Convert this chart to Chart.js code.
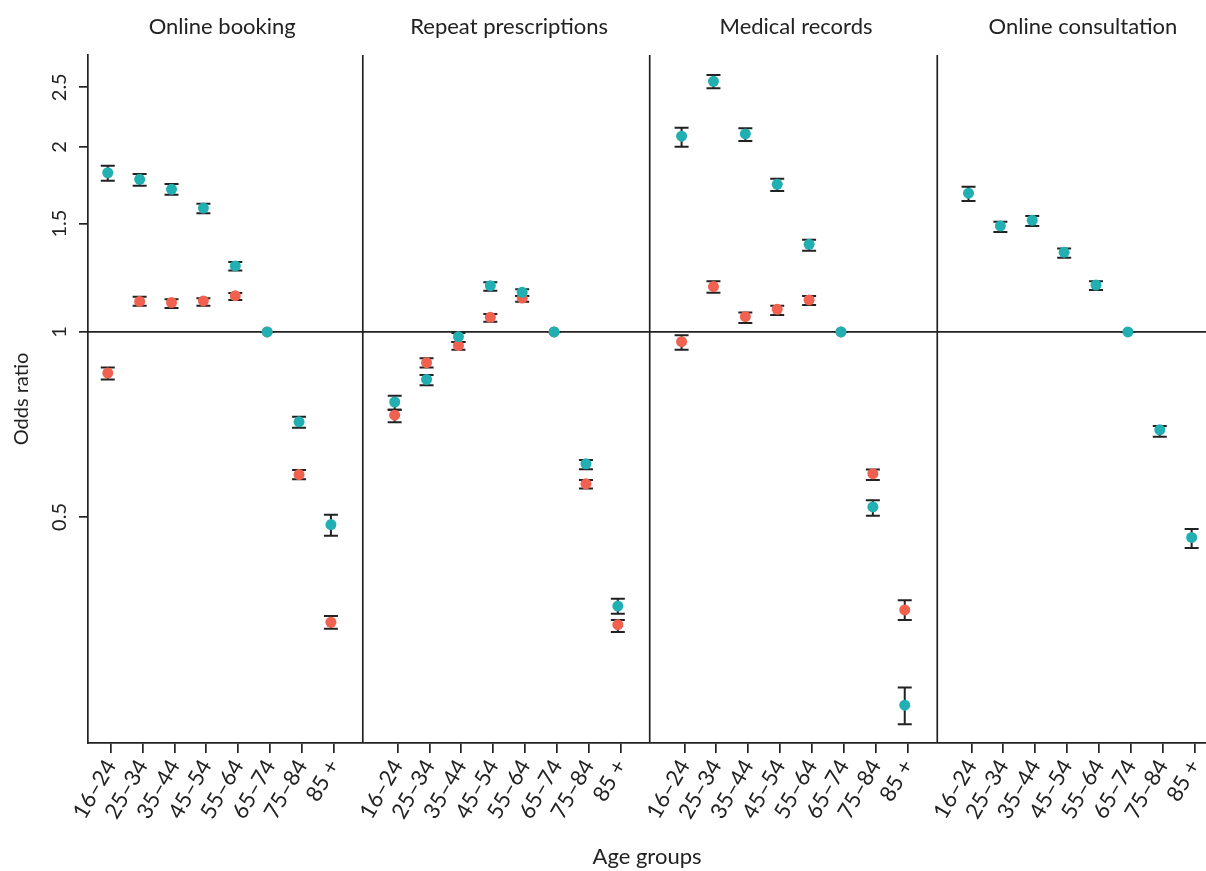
<!DOCTYPE html>
<html>
<head>
<meta charset="utf-8">
<script src="https://cdn.jsdelivr.net/npm/chart.js@4.4.1/dist/chart.umd.min.js"></script>
<style>
    html, body { margin: 0; padding: 0; background: #fff; }
    #wrap { width: 1206px; height: 871px; }
</style>
</head>
<body>
<div id="wrap"><canvas id="chart"></canvas></div>
<script>
// ---------- DATA ----------
const panels = ['Online booking', 'Repeat prescriptions', 'Medical records', 'Online consultation'];
const ageGroups = ['16–24', '25–34', '35–44', '45–54', '55–64', '65–74', '75–84', '85 +'];
const yTicks = [0.5, 1, 1.5, 2, 2.5];

// teal series: odds ratio and 95% CI, one row per panel
const tealOR = [
    [1.815, 1.771, 1.706, 1.590, 1.280, 1, 0.714, 0.486],
    [0.769, 0.837, 0.982, 1.189, 1.160, 1, 0.610, 0.358],
    [2.081, 2.556, 2.099, 1.738, 1.388, 1, 0.519, 0.247],
    [1.681, 1.487, 1.519, 1.347, 1.192, 1, 0.693, 0.463]
];
const tealLow = [
    [1.762, 1.729, 1.672, 1.559, 1.258, 1, 0.698, 0.466],
    [0.747, 0.819, 0.963, 1.167, 1.144, 1, 0.598, 0.348],
    [2.001, 2.490, 2.044, 1.695, 1.355, 1, 0.502, 0.230],
    [1.633, 1.454, 1.487, 1.320, 1.170, 1, 0.675, 0.445]
];
const tealHigh = [
    [1.864, 1.807, 1.740, 1.616, 1.299, 1, 0.728, 0.504],
    [0.787, 0.851, 0.996, 1.204, 1.173, 1, 0.619, 0.368],
    [2.149, 2.617, 2.144, 1.775, 1.412, 1, 0.532, 0.264],
    [1.723, 1.511, 1.544, 1.366, 1.209, 1, 0.703, 0.478]
];

// red series (no estimates for online consultation)
const redOR = [
    [0.857, 1.121, 1.116, 1.123, 1.145, 1, 0.586, 0.337],
    [0.732, 0.891, 0.950, 1.056, 1.135, 1, 0.566, 0.334],
    [0.964, 1.185, 1.059, 1.088, 1.127, 1, 0.588, 0.353],
    [null, null, null, null, null, null, null, null]
];
const redLow = [
    [0.837, 1.103, 1.094, 1.103, 1.127, 1, 0.576, 0.329],
    [0.713, 0.875, 0.935, 1.039, 1.119, 1, 0.556, 0.325],
    [0.935, 1.158, 1.034, 1.065, 1.106, 1, 0.574, 0.340],
    [null, null, null, null, null, null, null, null]
];
const redHigh = [
    [0.875, 1.141, 1.130, 1.134, 1.157, 1, 0.596, 0.345],
    [0.747, 0.906, 0.963, 1.069, 1.144, 1, 0.574, 0.340],
    [0.987, 1.209, 1.075, 1.103, 1.144, 1, 0.597, 0.366],
    [null, null, null, null, null, null, null, null]
];

// ---------- LAYOUT ----------
const STEP = 9;          // x units from one panel to the next
const DODGE = -0.09;     // points sit a touch left of their tick
const X_MIN = -0.71, X_MAX = 34.36;
const SEPARATORS = [7.91, 16.91, 25.93];
const INK = '#222222';
const FONT = 'Lato, "DejaVu Sans", sans-serif';

function buildPoints(est, low, high) {
    const pts = [];
    est.forEach((row, p) => {
        row.forEach((v, i) => {
            if (v == null) return;
            pts.push({ x: p * STEP + i + DODGE, y: v, lo: low[p][i], hi: high[p][i] });
        });
    });
    return pts;
}

const tickPositions = [];
panels.forEach((_, p) => ageGroups.forEach((_, i) => tickPositions.push(p * STEP + i)));

// ---------- PLUGIN: reference line, panel borders, error bars, strip labels ----------
const facetPlugin = {
    id: 'facets',
    beforeDatasetsDraw(chart) {
        const { ctx, chartArea, scales: { x, y } } = chart;
        ctx.save();
        ctx.strokeStyle = INK;
        ctx.lineWidth = 1.7;

        const y1 = y.getPixelForValue(1);
        ctx.beginPath();
        ctx.moveTo(chartArea.left, y1);
        ctx.lineTo(chartArea.right, y1);
        ctx.stroke();

        SEPARATORS.forEach(v => {
            const px = x.getPixelForValue(v);
            ctx.beginPath();
            ctx.moveTo(px, chartArea.top);
            ctx.lineTo(px, chartArea.bottom);
            ctx.stroke();
        });

        ctx.lineWidth = 2;
        chart.data.datasets.forEach(ds => {
            ds.data.forEach(pt => {
                const px = x.getPixelForValue(pt.x);
                const yl = y.getPixelForValue(pt.lo);
                const yh = y.getPixelForValue(pt.hi);
                ctx.beginPath();
                ctx.moveTo(px, yl); ctx.lineTo(px, yh);
                ctx.moveTo(px - 7, yl); ctx.lineTo(px + 7, yl);
                ctx.moveTo(px - 7, yh); ctx.lineTo(px + 7, yh);
                ctx.stroke();
            });
        });
        ctx.restore();
    },
    afterDraw(chart) {
        const { ctx, scales: { x } } = chart;
        ctx.save();
        ctx.fillStyle = INK;
        ctx.font = '22px ' + FONT;
        ctx.textAlign = 'center';
        ctx.textBaseline = 'middle';
        panels.forEach((name, p) => {
            ctx.fillText(name, x.getPixelForValue(p * STEP + 3.5), 27);
        });
        ctx.restore();
    }
};

// ---------- CHART ----------
new Chart(document.getElementById('chart'), {
    type: 'scatter',
    data: {
        datasets: [
            { label: 'Teal', data: buildPoints(tealOR, tealLow, tealHigh), backgroundColor: '#21AFB2' },
            { label: 'Red', data: buildPoints(redOR, redLow, redHigh), backgroundColor: '#F0614F' }
        ]
    },
    options: {
        responsive: true,
        maintainAspectRatio: false,
        animation: false,
        layout: { autoPadding: false, padding: { top: 55, right: 0, bottom: 0, left: 0 } },
        elements: { point: { radius: 5.5, borderWidth: 0, hoverRadius: 5.5 } },
        plugins: { legend: { display: false }, tooltip: { enabled: false } },
        scales: {
            x: {
                type: 'linear',
                min: X_MIN,
                max: X_MAX,
                afterBuildTicks: s => { s.ticks = tickPositions.map(v => ({ value: v })); },
                afterFit: s => { s.height = 128; s.paddingLeft = 0; s.paddingRight = 0; },
                ticks: {
                    autoSkip: false,
                    minRotation: 60,
                    maxRotation: 60,
                    padding: 2,
                    color: INK,
                    font: { family: FONT, size: 22 },
                    callback: (v, i) => ageGroups[i % ageGroups.length]
                },
                grid: { drawOnChartArea: false, drawTicks: true, tickLength: 10, color: INK, lineWidth: 1.7 },
                border: { display: true, color: INK, width: 1.7 },
                title: { display: true, text: 'Age groups', color: INK, font: { family: FONT, size: 22 }, padding: { top: 0, bottom: 1 } }
            },
            y: {
                type: 'logarithmic',
                min: 0.2144,
                max: 2.821,
                afterBuildTicks: s => { s.ticks = yTicks.map(v => ({ value: v })); },
                afterFit: s => { s.width = 88; s.paddingTop = 0; s.paddingBottom = 0; },
                ticks: {
                    minRotation: 90,
                    maxRotation: 90,
                    crossAlign: 'center',
                    padding: 5,
                    color: INK,
                    font: { family: FONT, size: 20 },
                    callback: v => String(v)
                },
                grid: { drawOnChartArea: false, drawTicks: true, tickLength: 9, color: INK, lineWidth: 1.7 },
                border: { display: true, color: INK, width: 1.7 },
                title: { display: true, text: 'Odds ratio', color: INK, font: { family: FONT, size: 20 }, padding: { top: 10, bottom: 0 } }
            }
        }
    },
    plugins: [facetPlugin]
});
</script>
</body>
</html>
